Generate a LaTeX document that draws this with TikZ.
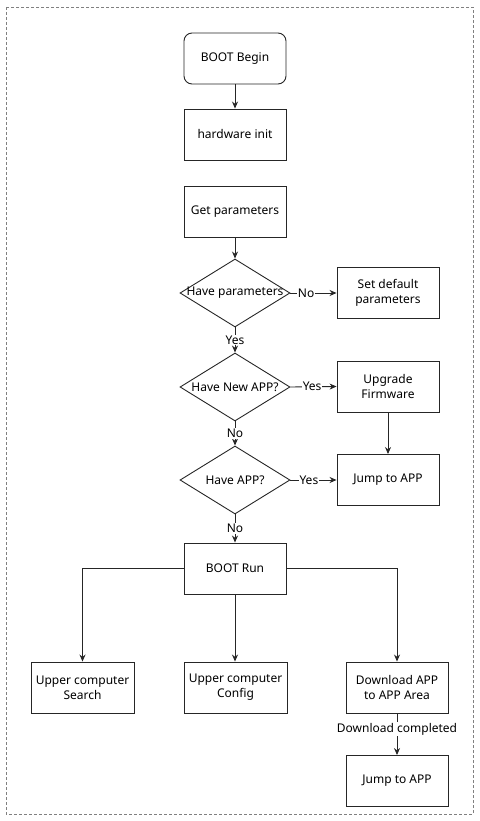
\documentclass[tikz,border=0pt]{standalone}
\usepackage{fontspec}
\setmainfont{Noto Sans}
\usetikzlibrary{shapes.geometric,arrows.meta}
\tikzset{
	box/.style={draw, fill=white, minimum width=102pt, minimum height=51pt, align=center, inner sep=2pt},
	decision/.style={draw, diamond, minimum width=110pt, minimum height=68pt, inner sep=0pt},
	arr/.style={-{Stealth[length=7pt,width=6pt]}},
	lbl/.style={fill=white, inner sep=1pt},
}
\begin{document}
\begin{tikzpicture}[x=1pt, y=-1pt, font=\fontsize{12}{15}\selectfont, line width=0.9pt, draw=black!85]
	\useasboundingbox (0,0) rectangle (479,821);
	\draw[gray, line width=0.8pt, dash pattern=on 3pt off 2pt] (6,7) rectangle (473,814);

	% start and parameters
	\node[box, rounded corners=8pt] (begin) at (235,58.5) {BOOT Begin};
	\node[box] (hwinit) at (235,134.5) {hardware init};
	\node[box] (getp) at (235,211.5) {Get parameters};

	% decisions
	\node[decision] (d1) at (235,293) {};
	\node at (d1) {Have parameters};
	\node[box] (setdef) at (388,293) {Set default\\parameters};
	\node[decision] (d2) at (235,387) {};
	\node at (d2) {Have New APP?};
	\node[box] (upgrade) at (388,386.5) {Upgrade\\Firmware};
	\node[decision] (d3) at (235,480) {};
	\node at (d3) {Have APP?};
	\node[box] (jump) at (388,480) {Jump to APP};

	% boot run
	\node[box] (bootrun) at (235,568.5) {BOOT Run};
	\node[box, minimum width=103pt] (search) at (82.5,687.5) {Upper computer\\Search};
	\node[box, minimum width=103pt] (config) at (235.5,687.5) {Upper computer\\Config};
	\node[box] (download) at (397,687.5) {Download APP\\to APP Area};
	\node[box] (jumpb) at (397,781) {Jump to APP};

	\draw[arr] (begin) -- (hwinit);
	\draw[arr] (getp) -- (d1);
	\draw[arr] (d1.east) -- node[lbl, pos=0.34] {No} (setdef.west);
	\draw[arr] (d1.south) -- node[lbl] {Yes} (d2.north);
	\draw[arr] (d2.east) -- node[lbl, pos=0.47] {Yes} (upgrade.west);
	\draw[arr] (upgrade) -- (jump);
	\draw[arr] (d2.south) -- node[lbl] {No} (d3.north);
	\draw[arr] (d3.east) -- node[lbl, pos=0.4] {Yes} (jump.west);
	\draw[arr] (d3.south) -- node[lbl] {No} (bootrun.north);
	\draw[arr] (bootrun.west) -| (search.north);
	\draw[arr] (bootrun.south) -- (bootrun.south |- config.north);
	\draw[arr] (bootrun.east) -| (download.north);
	\draw[arr] (download) -- node[lbl, pos=0.38] {Download completed} (jumpb);
\end{tikzpicture}
\end{document}
